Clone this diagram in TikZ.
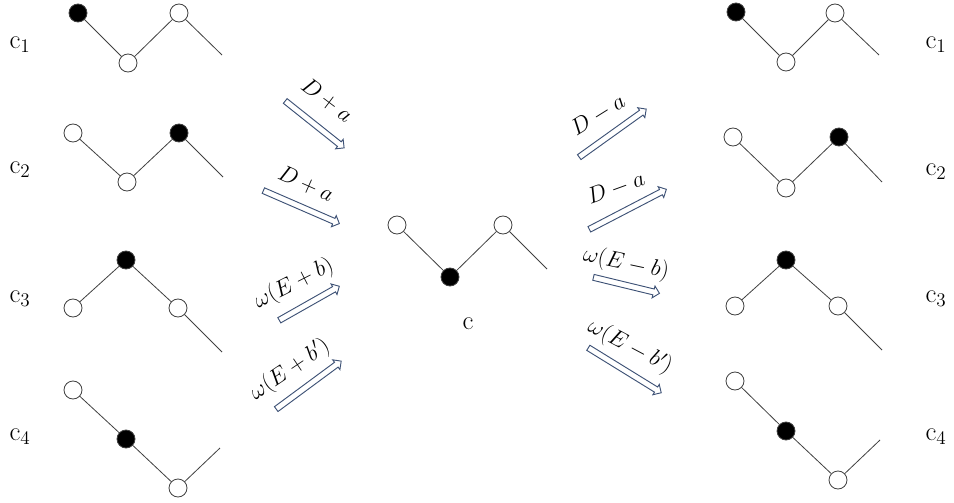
\documentclass[tikz,border=0pt]{standalone}
\usetikzlibrary{shapes.arrows,calc}
\definecolor{arrowblue}{HTML}{3E5276}
\definecolor{linegray}{HTML}{404040}
\tikzset{
  site/.style={circle, draw=linegray, line width=0.6pt, minimum size=13.5pt, inner sep=0pt, fill=white},
  occ/.style={site, fill=black},
  bond/.style={draw=linegray, line width=0.6pt},
  clabel/.style={font=\fontsize{20}{24}\selectfont, inner sep=0pt},
  rlabel/.style={font=\fontsize{16.5}{18}\selectfont, inner sep=0pt},
  blockarrow/.style={single arrow, draw=arrowblue, fill=white, line width=0.7pt,
    inner xsep=0pt, inner ysep=1.9pt, minimum width=0pt,
    single arrow head extend=2.3pt, single arrow head indent=0pt, single arrow tip angle=90}
}
\newcommand\hollowarrow[3]{%
  \path let \p1=($(#3)-(#2)$), \n1={atan2(\y1,\x1)}, \n2={veclen(\x1,\y1)} in
    node[blockarrow, rotate=\n1, minimum height=\n2] (#1) at ($(#2)!0.5!(#3)$) {};}
\begin{document}
\begin{tikzpicture}[x=0.75pt,y=-0.75pt]
\useasboundingbox (0,0) rectangle (954,503);

% ---------- left column ----------
% c1
\node[clabel] (Lc1) at (20,45) {c$_1$};
\node[occ]  (L1a) at (78,13) {};
\node[site] (L1b) at (128,63) {};
\node[site] (L1c) at (179,13) {};
\coordinate (L1e) at (222,55);
\draw[bond] (L1a) -- (L1b) -- (L1c) -- (L1e);
% c2
\node[clabel] (Lc2) at (20,170) {c$_2$};
\node[site] (L2a) at (73,133) {};
\node[site] (L2b) at (127,182) {};
\node[occ]  (L2c) at (179,133) {};
\coordinate (L2e) at (223,177);
\draw[bond] (L2a) -- (L2b) -- (L2c) -- (L2e);
% c3
\node[clabel] (Lc3) at (20,299) {c$_3$};
\node[site] (L3a) at (73,308) {};
\node[occ]  (L3b) at (126,260) {};
\node[site] (L3c) at (178,308) {};
\coordinate (L3e) at (222,352);
\draw[bond] (L3a) -- (L3b) -- (L3c) -- (L3e);
% c4
\node[clabel] (Lc4) at (20,437) {c$_4$};
\node[site] (L4a) at (73,390) {};
\node[occ]  (L4b) at (126,439) {};
\node[site] (L4c) at (178,488) {};
\coordinate (L4e) at (220,448);
\draw[bond] (L4a) -- (L4b) -- (L4c) -- (L4e);

% ---------- centre ----------
\node[site] (Ca) at (397,225) {};
\node[occ]  (Cb) at (450,277) {};
\node[site] (Cc) at (503,225) {};
\coordinate (Ce) at (547,269);
\draw[bond] (Ca) -- (Cb) -- (Cc) -- (Ce);
\node[clabel] (Cl) at (468,324) {c};

% ---------- right column ----------
% c1
\node[clabel] (Rc1) at (936,45) {c$_1$};
\node[occ]  (R1a) at (736,12) {};
\node[site] (R1b) at (786,62) {};
\node[site] (R1c) at (835,13) {};
\coordinate (R1e) at (879,55);
\draw[bond] (R1a) -- (R1b) -- (R1c) -- (R1e);
% c2
\node[clabel] (Rc2) at (936,172) {c$_2$};
\node[site] (R2a) at (733,137) {};
\node[site] (R2b) at (786,188) {};
\node[occ]  (R2c) at (839,137) {};
\coordinate (R2e) at (882,182);
\draw[bond] (R2a) -- (R2b) -- (R2c) -- (R2e);
% c3
\node[clabel] (Rc3) at (936,299) {c$_3$};
\node[site] (R3a) at (735,306) {};
\node[occ]  (R3b) at (786,260) {};
\node[site] (R3c) at (838,306) {};
\coordinate (R3e) at (882,350);
\draw[bond] (R3a) -- (R3b) -- (R3c) -- (R3e);
% c4
\node[clabel] (Rc4) at (936,437) {c$_4$};
\node[site] (R4a) at (735,381) {};
\node[occ]  (R4b) at (786,431) {};
\node[site] (R4c) at (838,480) {};
\coordinate (R4e) at (880,440);
\draw[bond] (R4a) -- (R4b) -- (R4c) -- (R4e);

% ---------- arrows ----------
\coordinate (A1s) at (284,100); \coordinate (A1t) at (343,147);
\coordinate (A2s) at (262,190); \coordinate (A2t) at (338,223);
\coordinate (A3s) at (278,321); \coordinate (A3t) at (338,287);
\coordinate (A4s) at (275,410); \coordinate (A4t) at (340,362);
\coordinate (B1s) at (578,158); \coordinate (B1t) at (645,110);
\coordinate (B2s) at (588,230); \coordinate (B2t) at (665,190);
\coordinate (B3s) at (592,277); \coordinate (B3t) at (658,293);
\coordinate (B4s) at (587,347); \coordinate (B4t) at (660,392);
\hollowarrow{A1}{A1s}{A1t}
\hollowarrow{A2}{A2s}{A2t}
\hollowarrow{A3}{A3s}{A3t}
\hollowarrow{A4}{A4s}{A4t}
\hollowarrow{B1}{B1s}{B1t}
\hollowarrow{B2}{B2s}{B2t}
\hollowarrow{B3}{B3s}{B3t}
\hollowarrow{B4}{B4s}{B4t}

% ---------- labels ----------
\node[rlabel, rotate=-37] (tA1) at (327,100) {$D+a$};
\node[rlabel, rotate=-24] (tA2) at (306,184) {$D+a$};
\node[rlabel, rotate=27]  (tA3) at (294,284) {$\omega(E+b)$};
\node[rlabel, rotate=34]  (tA4) at (290,370) {$\omega(E+b')$};
\node[rlabel, rotate=32]  (tB1) at (598,115) {$D-a$};
\node[rlabel, rotate=20]  (tB2) at (616,188) {$D-a$};
\node[rlabel, rotate=-12] (tB3) at (626,264) {$\omega(E-b)$};
\node[rlabel, rotate=-28] (tB4) at (630,347) {$\omega(E-b')$};
\end{tikzpicture}
\end{document}
